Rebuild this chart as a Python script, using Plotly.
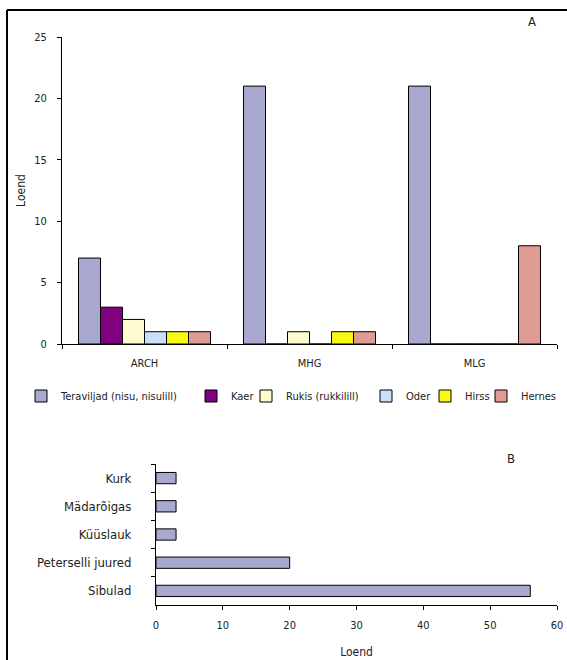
import plotly.graph_objects as go

W, H = 567, 660

# Chart A data
groups = ["ARCH", "MHG", "MLG"]
series_names = ["Teraviljad (nisu, nisulill)", "Kaer", "Rukis (rukkilill)", "Oder", "Hirss", "Hernes"]
teraviljad = [7, 21, 21]
kaer = [3, 0, 0]
rukis = [2, 1, 0]
oder = [1, 0, 0]
hirss = [1, 1, 0]
hernes = [1, 1, 8]
series_values = [teraviljad, kaer, rukis, oder, hirss, hernes]
series_colors = ["#A8A8D0", "#800080", "#FFFBD0", "#C8E0F8", "#F8F810", "#E09C94"]

# Chart B data (top to bottom)
vegetables = ["Kurk", "Mädarõigas", "Küüslauk", "Peterselli juured", "Sibulad"]
veg_counts = [3, 3, 3, 20, 56]

FONT = "DejaVu Sans Condensed, DejaVu Sans, sans-serif"
TXT = "#222222"


def px_x(p):
    return p / W


def px_y(p):
    return 1 - p / H


# left edge (px) of each legend entry's text in the reference
legend_text_x = [58, 228, 283, 403, 462, 518]

fig = go.Figure()

for i, (name, vals, col) in enumerate(zip(series_names, series_values, series_colors)):
    fig.add_trace(go.Bar(
        x=groups, y=vals, name=name,
        marker=dict(color=col, line=dict(color="#000000", width=1)),
        xaxis="x", yaxis="y",
        legend="legend" if i == 0 else f"legend{i + 1}",
    ))

fig.add_trace(go.Bar(
    x=veg_counts, y=vegetables, orientation="h", showlegend=False,
    marker=dict(color="#A8A8D0", line=dict(color="#000000", width=1)),
    xaxis="x2", yaxis="y2", width=0.4,
))

axis_common = dict(
    showline=True, linecolor="#000000", linewidth=1,
    showgrid=False, zeroline=False, automargin=False,
    ticks="outside", ticklen=4, tickcolor="#000000",
    tickfont=dict(family=FONT, size=11, color=TXT),
)

legends = {}
for i, tx in enumerate(legend_text_x):
    key = "legend" if i == 0 else f"legend{i + 1}"
    legends[key] = dict(
        orientation="h", x=px_x(tx - 37), xanchor="left",
        y=px_y(396), yanchor="middle",
        font=dict(family=FONT, size=11, color=TXT), itemwidth=30,
        bgcolor="rgba(0,0,0,0)", borderwidth=0,
    )

fig.update_layout(
    width=W, height=H,
    margin=dict(l=0, r=0, t=0, b=0, pad=0, autoexpand=False),
    paper_bgcolor="white", plot_bgcolor="white",
    barmode="group", bargap=0.2, bargroupgap=0,
    font=dict(family=FONT, size=11, color=TXT),
    xaxis=dict(domain=[px_x(62), px_x(557)], anchor="y", type="category",
               tickson="boundaries", ticklabelstandoff=9, **axis_common),
    yaxis=dict(domain=[px_y(344), px_y(37)], anchor="x", range=[0, 25],
               dtick=5, ticklabelstandoff=8,
               title=dict(text="Loend", font=dict(family=FONT, size=12, color=TXT), standoff=6),
               **axis_common),
    xaxis2=dict(domain=[px_x(156), px_x(557)], anchor="y2", range=[0, 60], dtick=10,
                ticklabelstandoff=6,
                title=dict(text="Loend", font=dict(family=FONT, size=12, color=TXT), standoff=16),
                **axis_common),
    yaxis2=dict(domain=[px_y(605), px_y(464)], anchor="x2", type="category",
                autorange="reversed", tickson="boundaries", ticklabelstandoff=21,
                **{**axis_common, "tickfont": dict(family=FONT, size=13, color=TXT)}),
    annotations=[
        dict(text="A", x=px_x(532), y=px_y(22), xref="paper", yref="paper",
             xanchor="center", yanchor="middle",
             showarrow=False, font=dict(family=FONT, size=13, color=TXT)),
        dict(text="B", x=px_x(511), y=px_y(458), xref="paper", yref="paper",
             xanchor="center", yanchor="middle",
             showarrow=False, font=dict(family=FONT, size=13, color=TXT)),
    ],
    shapes=[
        dict(type="line", xref="paper", yref="paper", x0=px_x(7), x1=px_x(7), y0=0, y1=px_y(10),
             line=dict(color="#000000", width=2)),
        dict(type="line", xref="paper", yref="paper", x0=px_x(7), x1=1, y0=px_y(10), y1=px_y(10),
             line=dict(color="#000000", width=2)),
    ],
    **legends,
)

fig.write_html(
    "out.html",
    config={"displayModeBar": False},
    post_script="document.body.style.margin='0';document.body.style.overflow='hidden';",
)
